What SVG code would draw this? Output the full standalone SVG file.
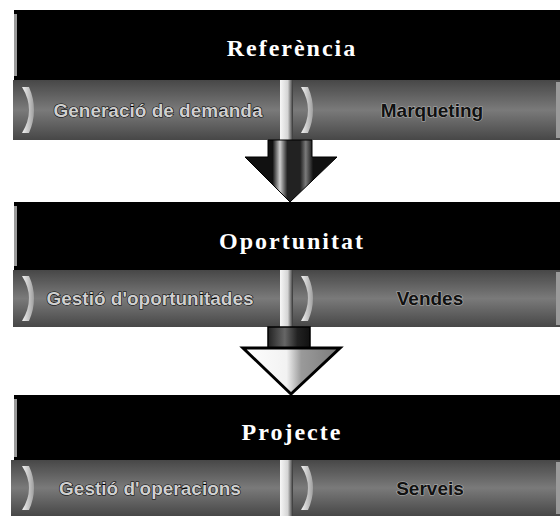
<svg xmlns="http://www.w3.org/2000/svg" width="560" height="522" viewBox="0 0 560 522">
<style>
.hdr{fill:#000}
.band{fill:url(#bandG)}
.edge{fill:#9a9a9a}
.sep{fill:url(#sepG)}
.bev{fill:url(#bevG)}
.title{font-family:"Liberation Serif",serif;font-weight:bold;font-size:24px;letter-spacing:2px;fill:#fff;text-anchor:middle}
.subL{font-family:"Liberation Sans",sans-serif;font-weight:bold;font-size:19px;fill:#cfcfcf;stroke:#000;stroke-width:1.1;paint-order:stroke;text-anchor:middle}
.subR{font-family:"Liberation Sans",sans-serif;font-weight:bold;font-size:19px;fill:#111;stroke:#b0b0b0;stroke-width:1.2;paint-order:stroke;text-anchor:middle}
</style>
<defs>
<linearGradient id="bandG" x1="0" y1="0" x2="0" y2="1">
<stop offset="0" stop-color="#474747"/>
<stop offset="0.5" stop-color="#7a7a7a"/>
<stop offset="1" stop-color="#474747"/>
</linearGradient>
<linearGradient id="sepG" x1="0" y1="0" x2="1" y2="0">
<stop offset="0" stop-color="#f7f7f7"/>
<stop offset="0.6" stop-color="#d4d4d4"/>
<stop offset="1" stop-color="#333"/>
</linearGradient>
<linearGradient id="bevG" x1="0" y1="0" x2="1" y2="0">
<stop offset="0" stop-color="#f2f2f2"/>
<stop offset="1" stop-color="#a0a0a0"/>
</linearGradient>
<linearGradient id="arr1G" x1="0" y1="0" x2="1" y2="0">
<stop offset="0" stop-color="#111"/>
<stop offset="0.3" stop-color="#111"/>
<stop offset="0.38" stop-color="#cfcfcf"/>
<stop offset="0.46" stop-color="#222"/>
<stop offset="0.6" stop-color="#222"/>
<stop offset="0.66" stop-color="#7a7a7a"/>
<stop offset="0.74" stop-color="#111"/>
<stop offset="1" stop-color="#111"/>
</linearGradient>
<linearGradient id="arr2G" x1="0" y1="0" x2="1" y2="0">
<stop offset="0" stop-color="#fff"/>
<stop offset="0.45" stop-color="#f2f2f2"/>
<stop offset="0.6" stop-color="#9a9a9a"/>
<stop offset="1" stop-color="#7a7a7a"/>
</linearGradient>
<linearGradient id="sh2G" x1="0" y1="0" x2="1" y2="0">
<stop offset="0" stop-color="#222"/>
<stop offset="0.4" stop-color="#666"/>
<stop offset="0.7" stop-color="#222"/>
<stop offset="1" stop-color="#111"/>
</linearGradient>
</defs>

<g id="node-referencia">
<rect class="hdr" x="14" y="10" width="546" height="70"/>
<rect class="edge" x="14" y="14" width="3" height="62"/>
<rect class="band" x="13" y="80" width="547" height="60"/>
<path class="bev" d="M22 87 Q36 110 22 133 L29 133 Q39 110 29 87 Z"/>
<rect class="sep" x="280" y="80" width="13" height="60"/>
<path class="bev" d="M301 87 Q315 110 301 133 L308 133 Q318 110 308 87 Z"/>
<rect class="edge" x="556" y="82" width="4" height="56"/>
<text class="title" x="292" y="56">Referència</text>
<text class="subL" x="158" y="117">Generació de demanda</text>
<text class="subR" x="432" y="117">Marqueting</text>
</g>

<g id="node-oportunitat">
<rect class="hdr" x="14" y="202" width="546" height="68"/>
<rect class="edge" x="14" y="206" width="3" height="60"/>
<rect class="band" x="13" y="270" width="547" height="57"/>
<path class="bev" d="M22 276 Q36 298 22 321 L29 321 Q39 298 29 276 Z"/>
<rect class="sep" x="280" y="270" width="13" height="57"/>
<path class="bev" d="M301 276 Q315 298 301 321 L308 321 Q318 298 308 276 Z"/>
<rect class="edge" x="556" y="272" width="4" height="53"/>
<text class="title" x="292" y="249">Oportunitat</text>
<text class="subL" x="150" y="305">Gestió d'oportunitades</text>
<text class="subR" x="430" y="305">Vendes</text>
</g>

<g id="node-projecte">
<rect class="hdr" x="14" y="395" width="546" height="65"/>
<rect class="edge" x="14" y="399" width="3" height="58"/>
<rect class="band" x="11" y="460" width="549" height="56"/>
<path class="bev" d="M22 466 Q36 488 22 510 L29 510 Q39 488 29 466 Z"/>
<rect class="sep" x="280" y="460" width="13" height="56"/>
<path class="bev" d="M301 466 Q315 488 301 510 L308 510 Q318 488 308 466 Z"/>
<rect class="edge" x="556" y="462" width="4" height="52"/>
<text class="title" x="292" y="440">Projecte</text>
<text class="subL" x="150" y="495">Gestió d'operacions</text>
<text class="subR" x="430" y="495">Serveis</text>
</g>

<g id="connectors">
<path d="M268 140 L312 140 L312 157 L337 157 L290 202 L245 157 L268 157 Z" fill="url(#arr1G)" stroke="#000" stroke-width="1"/>
<rect x="268" y="327" width="42" height="21" fill="url(#sh2G)" stroke="#000" stroke-width="1.5"/>
<path d="M243 348 L340 348 L291 394 Z" fill="url(#arr2G)" stroke="#000" stroke-width="3" stroke-linejoin="miter"/>
</g>
</svg>
